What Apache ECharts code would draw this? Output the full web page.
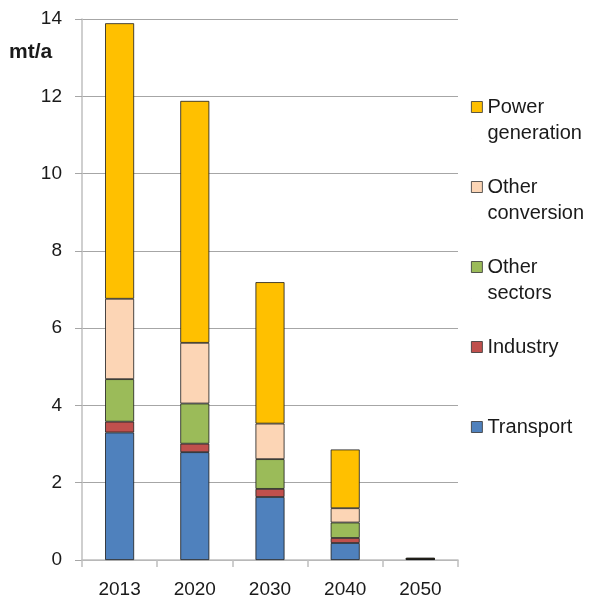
<!DOCTYPE html>
<html>
<head>
<meta charset="utf-8">
<script src="https://cdn.jsdelivr.net/npm/echarts@6/dist/echarts.min.js"></script>
<style>
  html, body { margin: 0; padding: 0; background: #fff; }
  #chart { width: 589px; height: 601px; }
</style>
</head>
<body>
<div id="chart"></div>
<script>
// Emissions by sector, mt/a
var years = ['2013', '2020', '2030', '2040', '2050'];
var transport       = [3.30, 2.79, 1.63, 0.44, 0.03];
var industry        = [0.28, 0.22, 0.21, 0.13, 0.00];
var otherSectors    = [1.10, 1.04, 0.77, 0.40, 0.00];
var otherConversion = [2.08, 1.57, 0.92, 0.37, 0.00];
var powerGeneration = [7.13, 6.26, 3.66, 1.52, 0.03];
var yTicks = [0, 2, 4, 6, 8, 10, 12, 14];

var FONT = '"Liberation Sans", Arial, sans-serif';

var seriesDefs = [
  { name: 'Transport',        data: transport,       color: '#4F81BD', label: 'Transport',          y: 427 },
  { name: 'Industry',         data: industry,        color: '#C0504D', label: 'Industry',           y: 347 },
  { name: 'Other sectors',    data: otherSectors,    color: '#9BBB59', label: 'Other\nsectors',     y: 267 },
  { name: 'Other conversion', data: otherConversion, color: '#FCD5B5', label: 'Other\nconversion',  y: 187 },
  { name: 'Power generation', data: powerGeneration, color: '#FFC000', label: 'Power\ngeneration',  y: 107 }
];

var series = seriesDefs.map(function (d) {
  return {
    name: d.name,
    type: 'bar',
    stack: 'total',
    barWidth: 29,
    data: d.data,
    itemStyle: { color: d.color, borderColor: '#1a1a1a', borderWidth: 0.8 },
    emphasis: { disabled: true }
  };
});

// Swatch sits at the top of a taller icon box, so for wrapped labels
// it lines up with the first text line instead of the block's middle.
var TALL_SWATCH = 'path://M0,0h11v11h-11z M0,37h0.01';

var legends = seriesDefs.map(function (d) {
  var twoLines = d.label.indexOf('\n') >= 0;
  return {
    data: [d.name],
    left: 471,
    top: d.y - 13,
    padding: 0,
    itemWidth: 11,
    itemHeight: twoLines ? 37 : 11,
    itemGap: 0,
    icon: twoLines ? TALL_SWATCH : 'rect',
    selectedMode: false,
    formatter: function () { return d.label; },
    textStyle: {
      fontFamily: FONT,
      fontSize: 20,
      color: '#1a1a1a',
      lineHeight: 26
    },
    itemStyle: { borderColor: '#333', borderWidth: 0.8 }
  };
});

var chart = echarts.init(document.getElementById('chart'), null, { renderer: 'canvas' });
chart.setOption({
  animation: false,
  backgroundColor: '#fff',
  title: {
    text: 'mt/a',
    left: 9,
    top: 42,
    padding: 0,
    textStyle: { fontFamily: FONT, fontSize: 21, fontWeight: 'bold', color: '#1a1a1a' }
  },
  legend: legends,
  grid: { left: 82, right: 131, top: 19, bottom: 41, containLabel: false },
  xAxis: {
    type: 'category',
    data: years,
    axisLine: { lineStyle: { color: '#BFBFBF', width: 1.5 } },
    axisTick: { show: true, length: 7, lineStyle: { color: '#BFBFBF', width: 1.5 } },
    axisLabel: { fontFamily: FONT, fontSize: 19, color: '#1a1a1a', margin: 20 }
  },
  yAxis: {
    type: 'value',
    min: yTicks[0],
    max: yTicks[yTicks.length - 1],
    interval: 2,
    axisLine: { show: true, lineStyle: { color: '#BFBFBF', width: 1.5 } },
    axisTick: { show: true, length: 7, lineStyle: { color: '#A6A6A6' } },
    axisLabel: { fontFamily: FONT, fontSize: 19, color: '#1a1a1a', margin: 20 },
    splitLine: { lineStyle: { color: '#A6A6A6', width: 1 } }
  },
  series: series
});
</script>
</body>
</html>
